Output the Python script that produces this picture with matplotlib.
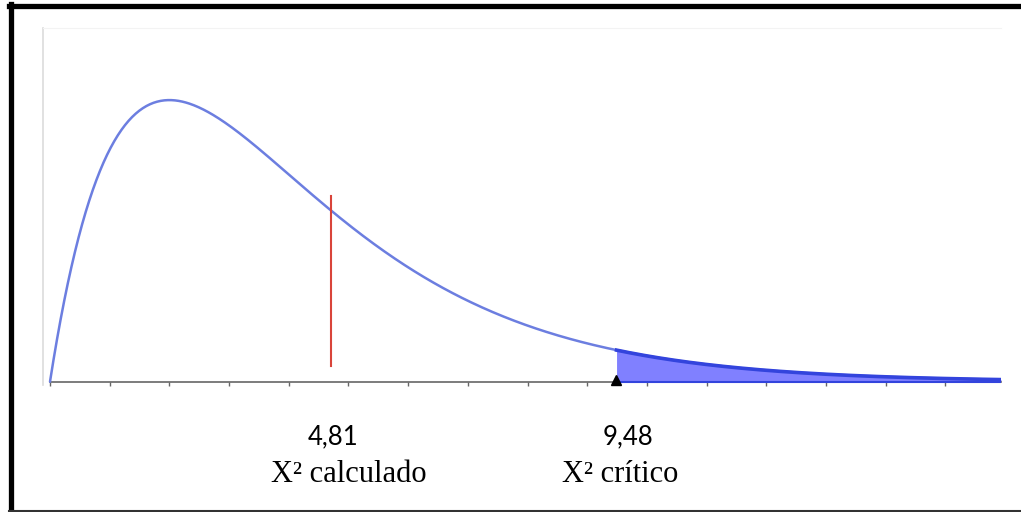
import numpy as np
import matplotlib
matplotlib.use("Agg")
import matplotlib.pyplot as plt
from matplotlib.lines import Line2D

# Data
df = 4
x_max = 15.93
chi2_calc_pos = 4.7       # position of red line as drawn
chi2_calc_label = "4,81"
chi2_crit = 9.48
chi2_crit_label = "9,48"
label_calc = "X² calculado"
label_crit = "X² crítico"
red_line_bottom = 0.0103
red_line_top = 0.1213
tick_values = list(range(0, 16))

W, H = 1021, 512
fig = plt.figure(figsize=(W / 100, H / 100), dpi=100)

def fx(px):
    return px / W

def fy(py):
    return 1 - py / H

# axes from pixel x 43..1001, y 28..385
ax = fig.add_axes([fx(43), fy(385), fx(1001) - fx(43), fy(28) - fy(385)])
px_per_unit = 59.7
x_left = (43 - 50) / px_per_unit
ax.set_xlim(x_left, x_max)
y_per_px = 1 / 1531.0
ax.set_ylim(-(385 - 381.7) * y_per_px, (381.7 - 28) * y_per_px)

x = np.linspace(0, x_max, 800)
pdf = x ** (df / 2 - 1) * np.exp(-x / 2) / (2 ** (df / 2) * 1.0)  # Gamma(2)=1

ax.plot(x, pdf, color="#6c7ee0", lw=1.8, zorder=3, solid_capstyle="round")

mask = x >= chi2_crit
ax.fill_between(x[mask], 0, pdf[mask], color="#8080ff", lw=0, zorder=2)
ax.plot(x[mask], pdf[mask], color="#3344dd", lw=2.6, zorder=4)
ax.plot([chi2_crit, x_max], [0, 0], color="#3344dd", lw=1.5, zorder=4)

ax.plot([chi2_calc_pos, chi2_calc_pos], [red_line_bottom, red_line_top],
        color="#d9443a", lw=1.5, zorder=5)

ax.plot([chi2_crit], [0.0008], marker="^", color="black", markersize=7, zorder=6, clip_on=False)

# spines
ax.spines["right"].set_visible(False)
ax.spines["top"].set_color("#f3f3f3")
ax.spines["top"].set_linewidth(0.8)
ax.spines["left"].set_color("#dcdcdc")
ax.spines["left"].set_linewidth(1.2)
ax.spines["bottom"].set_position(("data", 0))
ax.spines["bottom"].set_bounds(0, x_max)
ax.spines["bottom"].set_color("#666666")
ax.spines["bottom"].set_linewidth(1.2)
ax.set_xticks(tick_values)
ax.set_xticklabels([])
ax.tick_params(axis="x", direction="out", length=3, width=1, color="#666666")
ax.set_yticks([])

# labels
fig.text(fx(333), fy(437), chi2_calc_label, ha="center", va="center",
         fontfamily="Lato", fontsize=18.5, color="black")
fig.text(fx(628), fy(437), chi2_crit_label, ha="center", va="center",
         fontfamily="Lato", fontsize=18.5, color="black")
fig.text(fx(349), fy(474), label_calc, ha="center", va="center",
         fontfamily="Liberation Serif", fontsize=22, color="black")
fig.text(fx(620), fy(474), label_crit, ha="center", va="center",
         fontfamily="Liberation Serif", fontsize=22, color="black")

# outer frame
fig.add_artist(Line2D([fx(10.5), fx(10.5)], [fy(3.5), fy(511)], color="black", lw=3.8))
fig.add_artist(Line2D([fx(8.5), fx(1021)], [fy(5.5), fy(5.5)], color="black", lw=3.8))
fig.add_artist(Line2D([fx(8.5), fx(1021)], [fy(510.5), fy(510.5)], color="#333333", lw=1.5))

fig.savefig("out.png", dpi=100)
